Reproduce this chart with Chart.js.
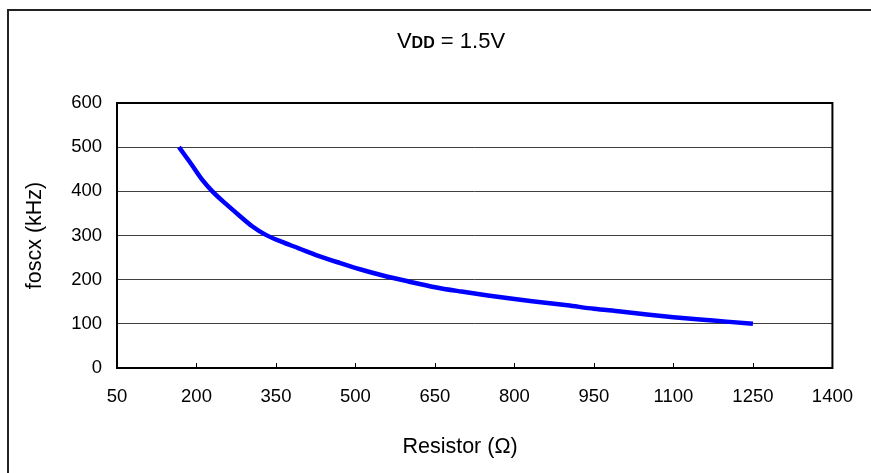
<!DOCTYPE html>
<html lang="en">
<head>
    <meta charset="UTF-8">
    <title>foscx vs Resistor</title>
    <style>
        html, body { margin: 0; padding: 0; background: #fff; }
        #wrap { width: 871px; height: 473px; }
    </style>
</head>
<body>
    <div id="wrap">
        <canvas id="myChart" width="871" height="473"></canvas>
    </div>

    <script src="https://cdn.jsdelivr.net/npm/chart.js@4.4.0/dist/chart.umd.min.js"></script>
    <script>
// values
var resistor = [167, 190, 211, 230, 255, 280, 305, 330, 360, 393, 430, 470, 510, 550,
                600, 650, 700, 750, 800, 850, 900, 950, 1000, 1050, 1100, 1150, 1200, 1250];
var foscx    = [500, 462, 426, 400, 372, 346, 321, 302, 286, 271, 254, 238, 223, 210,
                196, 183, 173, 164, 156, 149, 142, 134, 128, 121, 115, 110, 105, 100];

var xTicks = [50, 200, 350, 500, 650, 800, 950, 1100, 1250, 1400];
var yTicks = [0, 100, 200, 300, 400, 500, 600];

var FONT = "'Liberation Sans', Arial, sans-serif";

//frame, inward ticks and the texts that sit off-centre
var decorations = {
    id: 'decorations',
    beforeDraw: function(chart) {
        var ctx = chart.ctx;
        ctx.save();
        ctx.fillStyle = '#fff';
        ctx.fillRect(0, 0, chart.width, chart.height);
        // outer chart border (top + left, the rest is cut off)
        ctx.fillStyle = '#222';
        ctx.fillRect(7, 9, 2, chart.height - 9);
        ctx.fillRect(7, 9, chart.width - 7, 2);
        ctx.restore();
    },
    afterDatasetsDraw: function(chart) {
        var ctx = chart.ctx;
        var a = chart.chartArea;
        var xs = chart.scales.x;
        ctx.save();

        // tick marks on the x axis, pointing into the plot
        ctx.strokeStyle = '#000';
        ctx.lineWidth = 1;
        xs.ticks.forEach(function(t, i) {
            if (i === 0 || i === xs.ticks.length - 1) return;
            var px = Math.round(xs.getPixelForValue(t.value)) + 0.5;
            ctx.beginPath();
            ctx.moveTo(px, a.bottom);
            ctx.lineTo(px, a.bottom - 5);
            ctx.stroke();
        });

        // plot frame
        ctx.lineWidth = 2;
        ctx.strokeRect(a.left, a.top, a.right - a.left, a.bottom - a.top);

        // title: V + small bold DD + = 1.5V
        var big = '22px ' + FONT;
        var small = 'bold 16px ' + FONT;
        ctx.fillStyle = '#000';
        ctx.textBaseline = 'alphabetic';
        ctx.textAlign = 'left';
        ctx.font = big;
        var w1 = ctx.measureText('V').width;
        var w3 = ctx.measureText(' = 1.5V').width;
        ctx.font = small;
        var w2 = ctx.measureText('DD').width;
        var x0 = 451 - (w1 + w2 + w3) / 2;
        var base = 47.5;
        ctx.font = big;
        ctx.fillText('V', x0, base);
        ctx.font = small;
        ctx.fillText('DD', x0 + w1, base);
        ctx.font = big;
        ctx.fillText(' = 1.5V', x0 + w1 + w2, base);

        // x axis title
        ctx.font = '21.5px ' + FONT;
        ctx.textAlign = 'center';
        ctx.textBaseline = 'middle';
        ctx.fillText('Resistor (\u03A9)', 460, 447);

        ctx.restore();
    }
};

function plain(value) {
    return String(value);
}

function createChart() {
    var ctx = document.getElementById('myChart').getContext('2d');
    var points = resistor.map(function(r, i) {
        return { x: r, y: foscx[i] };
    });

    var myChart = new Chart(ctx, {
        type: 'line',
        data: {
            datasets: [{
                label: 'foscx',
                data: points,
                borderColor: '#0000ff',
                borderWidth: 4.5,
                pointRadius: 0,
                fill: false,
                cubicInterpolationMode: 'monotone',
                borderCapStyle: 'butt'
            }]
        },
        options: {
            responsive: false,
            animation: false,
            devicePixelRatio: 1,
            layout: {
                padding: { left: 8, top: 103, right: 35, bottom: 0 }
            },
            plugins: {
                legend: { display: false },
                title: { display: false },
                tooltip: { enabled: false }
            },
            scales: {
                x: {
                    type: 'linear',
                    min: xTicks[0],
                    max: xTicks[xTicks.length - 1],
                    afterBuildTicks: function(scale) {
                        scale.ticks = xTicks.map(function(v) { return { value: v }; });
                    },
                    afterFit: function(scale) { scale.height = 105; },
                    grid: { display: false, drawTicks: false },
                    border: { display: false },
                    ticks: {
                        color: '#000',
                        padding: 18,
                        maxRotation: 0,
                        autoSkip: false,
                        callback: plain,
                        font: { family: FONT, size: 18.5 }
                    },
                    title: { display: false }
                },
                y: {
                    min: yTicks[0],
                    max: yTicks[yTicks.length - 1],
                    afterBuildTicks: function(scale) {
                        scale.ticks = yTicks.map(function(v) { return { value: v }; });
                    },
                    afterFit: function(scale) { scale.width = 109; },
                    grid: { color: '#404040', lineWidth: 1, drawTicks: false },
                    border: { display: false },
                    ticks: {
                        color: '#000',
                        padding: 15,
                        callback: plain,
                        font: { family: FONT, size: 18.5 }
                    },
                    title: {
                        display: true,
                        text: 'foscx (kHz)',
                        color: '#000',
                        padding: { top: 14, bottom: 0 },
                        font: { family: FONT, size: 21.5 }
                    }
                }
            }
        },
        plugins: [decorations]
    });
}

createChart();
    </script>
</body>
</html>
